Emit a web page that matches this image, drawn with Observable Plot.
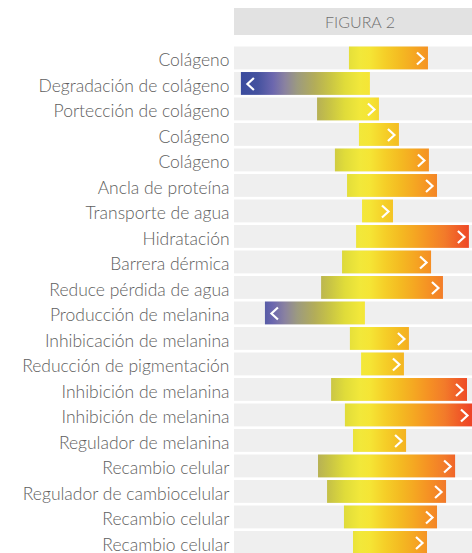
<!DOCTYPE html>
<html><head><meta charset="utf-8">
<script src="https://cdn.jsdelivr.net/npm/d3@7"></script>
<script src="https://cdn.jsdelivr.net/npm/@observablehq/plot@0.6"></script>
<style>
body{margin:0;width:472px;height:553px;overflow:hidden;background:#fff;font-family:Lato,sans-serif;}
#hdr{position:absolute;left:234px;top:8px;width:252px;height:27px;background:#e2e2e2;color:#707070;font-size:16px;line-height:27px;text-align:center;font-family:Lato,sans-serif;font-weight:300;}
#chart{position:absolute;left:0;top:44px;}
#chart svg{overflow:visible;}
</style></head><body>
<div id="hdr">FIGURA 2</div>
<div id="chart"></div>
<script>
const categories = [
  "Colágeno","Degradación de colágeno","Portección de colágeno","Colágeno","Colágeno",
  "Ancla de proteína","Transporte de agua","Hidratación","Barrera dérmica","Reduce pérdida de agua",
  "Producción de melanina","Inhibicación de melanina","Reducción de pigmentación","Inhibición de melanina","Inhibición de melanina",
  "Regulador de melanina","Recambio celular","Regulador de cambiocelular","Recambio celular","Recambio celular"
];
// start and end of each effect (0–100 scale); end < start means a decrease
const starts = [48.3, 57.1, 34.9, 52.5, 42.4, 47.5, 53.8, 51.3, 45.4, 36.6, 55.0, 48.7, 53.4, 40.8, 46.6, 50.0, 35.3, 39.1, 46.2, 50.0];
const ends   = [81.5,  2.9, 60.9, 69.3, 81.9, 85.3, 66.8, 98.7, 82.8, 87.8, 13.0, 73.5, 71.4, 97.9, 100,  72.3, 92.9, 89.1, 85.3, 81.1];
const xDomain = [0, 100];

const rows = categories.map((c, i) => ({
  i, label: c, from: starts[i], to: ends[i],
  lo: Math.min(starts[i], ends[i]), hi: Math.max(starts[i], ends[i]),
  up: ends[i] >= starts[i]
}));

const chevronRight = {draw(ctx) { ctx.moveTo(-3.5, -6); ctx.lineTo(3, 0); ctx.lineTo(-3.5, 6); }};
const chevronLeft  = {draw(ctx) { ctx.moveTo(3.5, -6); ctx.lineTo(-3, 0); ctx.lineTo(3.5, 6); }};

const plot = Plot.plot({
  width: 472,
  height: 511.2,
  marginLeft: 234,
  marginRight: 0,
  marginTop: 1.2,
  marginBottom: 0,
  style: {color: "#5e5e5e", fontFamily: "Lato, sans-serif", background: "transparent"},
  x: {domain: xDomain, axis: null},
  y: {domain: d3.range(categories.length), paddingInner: 0.104, paddingOuter: 0.052, round: false, axis: null},
  marks: [
    Plot.barX(rows, {y: "i", x1: xDomain[0], x2: xDomain[1], fill: "#efefef"}),
    Plot.barX(rows, {y: "i", x1: "lo", x2: "hi", fill: "url(#heat)"}),
    Plot.dot(rows.filter(d => d.up), {y: "i", x: "to", dx: -8, symbol: chevronRight, fill: "none", stroke: "white", strokeWidth: 2.2, r: 5}),
    Plot.dot(rows.filter(d => !d.up), {y: "i", x: "to", dx: 9, symbol: chevronLeft, fill: "none", stroke: "white", strokeWidth: 2.2, r: 5}),
    Plot.axisY({tickSize: 0, tickPadding: 5, tickFormat: i => categories[i], fontSize: 17.5, fontWeight: 300, dy: 2, label: null})
  ]
});

const ns = "http://www.w3.org/2000/svg";
const xs = plot.scale("x");
const defs = document.createElementNS(ns, "defs");
const lg = document.createElementNS(ns, "linearGradient");
lg.setAttribute("id", "heat");
lg.setAttribute("gradientUnits", "userSpaceOnUse");
lg.setAttribute("x1", xs.apply(xDomain[0]));
lg.setAttribute("x2", xs.apply(xDomain[1]));
lg.setAttribute("y1", 0);
lg.setAttribute("y2", 0);
[[0.029,"#3a4b9e"],[0.10,"#45529f"],[0.164,"#6c67ae"],[0.214,"#8a82a0"],[0.265,"#9c9a80"],
 [0.34,"#b3ad58"],[0.403,"#c8c445"],[0.466,"#e0dc3a"],[0.53,"#f2e83a"],[0.571,"#f5e535"],
 [0.634,"#f5cf28"],[0.697,"#f4bb22"],[0.76,"#f5a622"],[0.824,"#f58f24"],[0.887,"#f27a2a"],
 [0.941,"#f05e28"],[0.992,"#ee4526"]].forEach(([o, c]) => {
  const s = document.createElementNS(ns, "stop");
  s.setAttribute("offset", o);
  s.setAttribute("stop-color", c);
  lg.appendChild(s);
});
defs.appendChild(lg);
plot.insertBefore(defs, plot.firstChild);
document.getElementById("chart").appendChild(plot);
</script>
</body></html>
